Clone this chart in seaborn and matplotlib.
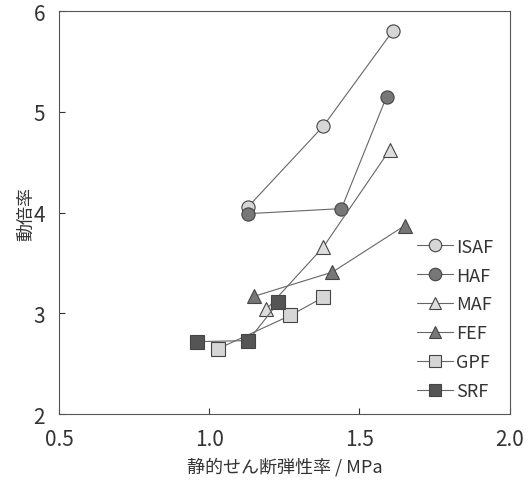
import numpy as np
import pandas as pd
import seaborn as sns
import matplotlib.pyplot as plt
from matplotlib.lines import Line2D

# data
names = ['ISAF', 'HAF', 'MAF', 'FEF', 'GPF', 'SRF']
isaf_x = [1.13, 1.38, 1.61]
isaf_y = [4.06, 4.86, 5.80]
haf_x = [1.13, 1.44, 1.59]
haf_y = [3.99, 4.04, 5.15]
maf_x = [1.19, 1.38, 1.60]
maf_y = [3.04, 3.66, 4.62]
fef_x = [1.15, 1.41, 1.65]
fef_y = [3.17, 3.41, 3.87]
gpf_x = [1.03, 1.27, 1.38]
gpf_y = [2.65, 2.98, 3.16]
srf_x = [0.96, 1.13, 1.23]
srf_y = [2.72, 2.73, 3.11]

xs = [isaf_x, haf_x, maf_x, fef_x, gpf_x, srf_x]
ys = [isaf_y, haf_y, maf_y, fef_y, gpf_y, srf_y]
markers = ['o', 'o', '^', '^', 's', 's']
faces = ['#d6d6d6', '#777777', '#dddddd', '#777777', '#d6d6d6', '#555555']

sns.set_style("ticks")
plt.rcParams['font.family'] = ['Noto Sans CJK JP', 'DejaVu Sans']

fig = plt.figure(figsize=(5.31, 4.85), dpi=100)
ax = fig.add_axes([0.111, 0.144, 0.849, 0.831])

rows = []
for n, x, y in zip(names, xs, ys):
    for i in range(len(x)):
        rows.append({'name': n, 'x': x[i], 'y': y[i], 'order': i})
df = pd.DataFrame(rows)

line_col = '#666666'
handles = []
for n, m, fc in zip(names, markers, faces):
    sub = df[df['name'] == n]
    sns.lineplot(data=sub, x='x', y='y', sort=False, ax=ax, color=line_col, lw=0.8,
                 marker=m, markersize=9.5, markerfacecolor=fc, markeredgecolor='#444444',
                 markeredgewidth=0.8, legend=False)
    handles.append(Line2D([], [], color=line_col, lw=0.8, marker=m, markersize=9,
                          markerfacecolor=fc, markeredgecolor='#444444', markeredgewidth=0.8))

ax.set_xlim(0.5, 2.0)
ax.set_ylim(2, 6)
ax.set_xticks([0.5, 1.0, 1.5, 2.0])
ax.set_xticklabels(['0.5', '1.0', '1.5', '2.0'])
ax.set_yticks([2, 3, 4, 5, 6])
ax.tick_params(direction='in', length=4, width=0.8, labelsize=15, colors='#333333', pad=10)
for s in ax.spines.values():
    s.set_linewidth(0.8)
    s.set_color('#555555')
ax.set_xlabel('静的せん断弾性率 / MPa', fontsize=13, color='#333333', labelpad=5)
ax.set_ylabel('動倍率', fontsize=13, color='#333333', labelpad=-1)

ax.legend(handles, names, loc='lower right', bbox_to_anchor=(1.0, -0.005), frameon=False,
          fontsize=13, handlelength=2.0, handletextpad=0.2, labelspacing=0.6,
          labelcolor='#333333')

fig.savefig('out.png', dpi=100)
